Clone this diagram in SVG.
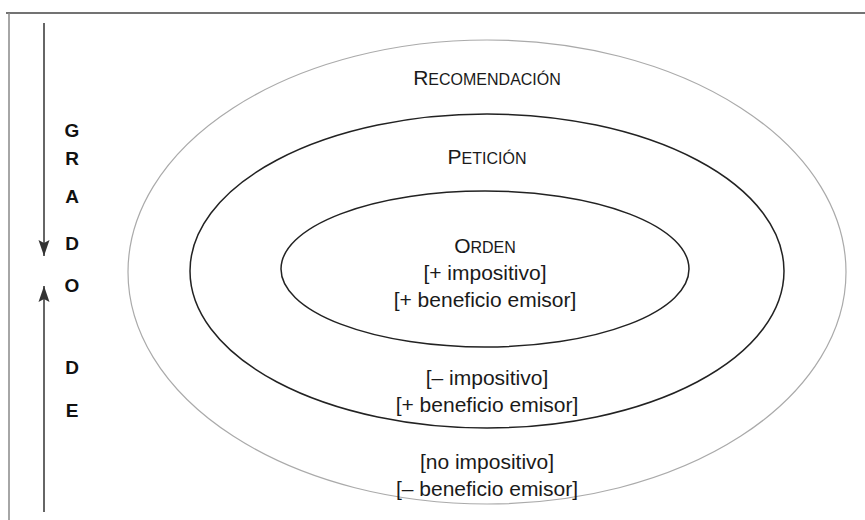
<svg xmlns="http://www.w3.org/2000/svg" width="865" height="520" viewBox="0 0 865 520">
<style>
.t{font-family:"Liberation Sans",Arial,sans-serif;font-size:21px;fill:#1a1a1a;text-anchor:middle}
.sc{font-size:16px}
.g{font-family:"Liberation Sans",Arial,sans-serif;font-size:19px;font-weight:bold;fill:#111;text-anchor:middle}
</style>
<defs>
<marker id="ah" viewBox="0 0 16 12" refX="16" refY="6" markerWidth="16" markerHeight="12" markerUnits="userSpaceOnUse" orient="auto">
<path d="M0,0.5 L16,6 L0,11.5 L3,6 Z" fill="#333"/>
</marker>
</defs>
<rect width="865" height="520" fill="#fff"/>
<g id="frame" fill="none">
<line x1="6" y1="13" x2="865" y2="13" stroke="#444" stroke-width="1.5"/>
<line x1="9" y1="13" x2="9" y2="520" stroke="#888" stroke-width="1.5"/>
</g>
<g id="connectors" stroke="#333" stroke-width="1.5" fill="none">
<line x1="44" y1="23" x2="44" y2="256" marker-end="url(#ah)"/>
<line x1="44" y1="512" x2="44" y2="286" marker-end="url(#ah)"/>
</g>
<g id="axis-label">
<text class="g" x="72" y="137">G</text>
<text class="g" x="72" y="165">R</text>
<text class="g" x="72" y="203">A</text>
<text class="g" x="72" y="250">D</text>
<text class="g" x="72" y="292">O</text>
<text class="g" x="72" y="374">D</text>
<text class="g" x="72" y="417">E</text>
</g>
<g id="recomendacion">
<ellipse cx="487" cy="272" rx="359" ry="232" fill="none" stroke="#aaa" stroke-width="1.2"/>
<text class="t" x="487" y="85">R<tspan class="sc">ECOMENDACIÓN</tspan></text>
<text class="t" x="487" y="469">[no impositivo]</text>
<text class="t" x="487" y="496">[– beneficio emisor]</text>
</g>
<g id="peticion">
<ellipse cx="487" cy="271" rx="297" ry="157" fill="none" stroke="#222" stroke-width="1.5"/>
<text class="t" x="487" y="164">P<tspan class="sc">ETICIÓN</tspan></text>
<text class="t" x="487" y="385">[– impositivo]</text>
<text class="t" x="487" y="412">[+ beneficio emisor]</text>
</g>
<g id="orden">
<ellipse cx="485" cy="269" rx="204" ry="78" fill="none" stroke="#222" stroke-width="1.5"/>
<text class="t" x="485" y="253">O<tspan class="sc">RDEN</tspan></text>
<text class="t" x="485" y="280">[+ impositivo]</text>
<text class="t" x="485" y="307">[+ beneficio emisor]</text>
</g>
</svg>
